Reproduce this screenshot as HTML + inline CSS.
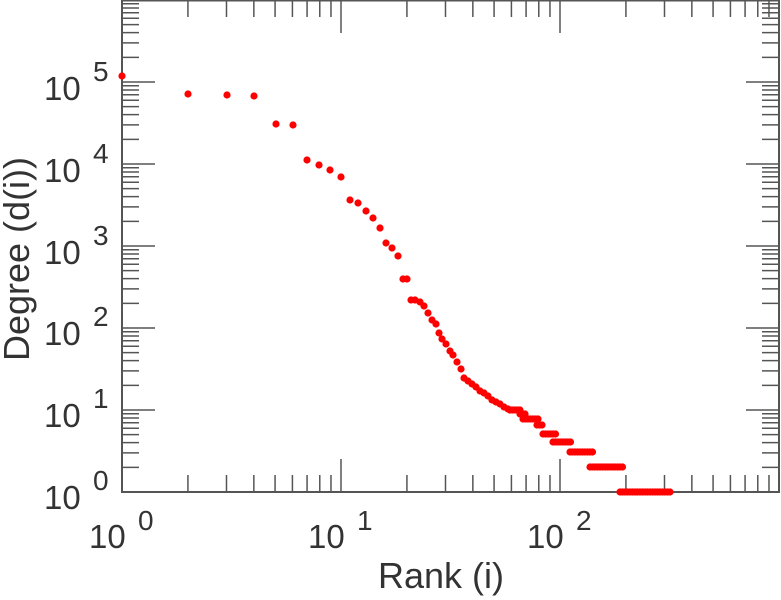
<!DOCTYPE html>
<html><head><meta charset="utf-8"><style>
html,body{margin:0;padding:0;background:#fff;}
svg{display:block;}
text{font-family:"Liberation Sans",sans-serif;fill:#333;}
</style></head><body>
<svg id="s" width="781" height="600" xmlns="http://www.w3.org/2000/svg">
<g id="ax" stroke="#555" stroke-width="1.5" fill="none"></g>
<rect x="122" y="0.5" width="657" height="491.5" fill="none" stroke="#555" stroke-width="2"/>
<g id="pts" fill="#f00"></g>
<g font-size="33">
<text x="44" y="509">10</text><text x="93" y="490" font-size="28">0</text>
<text x="44" y="427">10</text><text x="93" y="408" font-size="28">1</text>
<text x="44" y="345">10</text><text x="93" y="326" font-size="28">2</text>
<text x="44" y="264">10</text><text x="93" y="245" font-size="28">3</text>
<text x="44" y="182">10</text><text x="93" y="163" font-size="28">4</text>
<text x="44" y="100">10</text><text x="93" y="81" font-size="28">5</text>
<text x="89" y="548">10</text><text x="138" y="530" font-size="28">0</text>
<text x="308" y="548">10</text><text x="357" y="530" font-size="28">1</text>
<text x="527" y="548">10</text><text x="576" y="530" font-size="28">2</text>
</g>
<text x="441" y="588" font-size="36" text-anchor="middle">Rank (i)</text>
<text transform="translate(29,259) rotate(-90)" font-size="36" text-anchor="middle">Degree (d(i))</text>
</svg>
<script>
var ax=document.getElementById('ax'),s='';
var X0=122,XD=219,Y0=492,YD=82;
for(var d=0;d<3;d++)for(var k=1;k<=9;k++){var x=X0+XD*(d+Math.log10(k));var L=k==1?33:17;
 s+='<line x1="'+x+'" y1="492" x2="'+x+'" y2="'+(492-L)+'"/>';
 s+='<line x1="'+x+'" y1="0" x2="'+x+'" y2="'+L+'"/>';}
for(var d=0;d<6;d++)for(var k=1;k<=9;k++){var y=Y0-YD*(d+Math.log10(k));var L=k==1?33:17;
 s+='<line x1="122" y1="'+y+'" x2="'+(122+L)+'" y2="'+y+'"/>';
 s+='<line x1="779" y1="'+y+'" x2="'+(779-L)+'" y2="'+y+'"/>';}
ax.innerHTML=s;
var p=[[122,76],[188,94],[227,95],[254,96],[276,124],[293,125],[307,160],[319,165],[330,170],[341,177],[350,200],[358,203],[366,211],[373,218],[380,228],[386,243],[392,248],[398,256],[403,279],[407,279],[411,300],[415,300],[420,302],[424,306],[428,313],[432,320],[436,324],[439,333],[442,339],[446,344],[450,351],[453,355],[457,362],[461,369],[464,378],[468,381],[472,384],[476,387],[480,391],[484,393],[488,396],[492,400],[496,402],[500,404],[504,407],[508,409]];
var seg=[[510,520,410],[520,527,414],[523,538,419],[537,542,425],[543,557,434],[553,572,442],[570,593,452],[590,623,467],[620,672,492]];
seg.forEach(function(g){for(var x=g[0];x<=g[1];x+=2.5)p.push([x,g[2]]);});
var h='';p.forEach(function(q){h+='<circle cx="'+q[0]+'" cy="'+q[1]+'" r="3.6"/>';});
document.getElementById('pts').innerHTML=h;
</script>
</body></html>
